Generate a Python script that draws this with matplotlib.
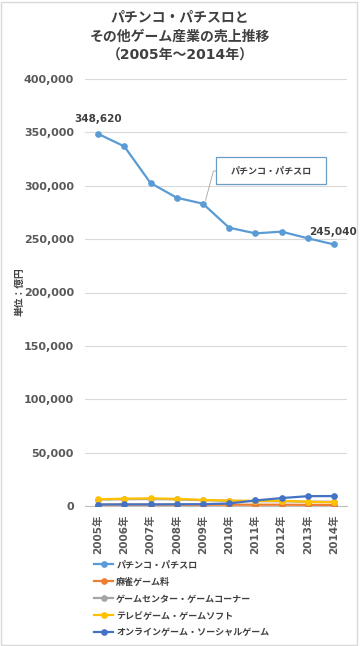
import matplotlib
matplotlib.use("Agg")
import matplotlib.pyplot as plt
from matplotlib.patches import Rectangle
from matplotlib.ticker import FuncFormatter

plt.rcParams['font.family'] = ['DejaVu Sans', 'Noto Sans CJK JP']

years = ['2005年', '2006年', '2007年', '2008年', '2009年', '2010年', '2011年', '2012年', '2013年', '2014年']
pachinko = [348620, 336900, 302600, 288800, 283200, 260700, 255400, 257000, 250800, 245040]
mahjong = [1300, 1300, 1300, 1200, 1200, 1200, 1200, 1200, 1100, 1000]
game_center = [6000, 6300, 6500, 6200, 5400, 4900, 4500, 4400, 4100, 4000]
tv_game = [6300, 6900, 7200, 6700, 5700, 5100, 4700, 4900, 3900, 3500]
online = [1400, 1500, 1500, 1600, 1700, 2400, 5200, 7400, 9200, 9300]

series = [
    ('パチンコ・パチスロ', pachinko, '#5B9BD5'),
    ('麻雀ゲーム料', mahjong, '#ED7D31'),
    ('ゲームセンター・ゲームコーナー', game_center, '#A5A5A5'),
    ('テレビゲーム・ゲームソフト', tv_game, '#FFC000'),
    ('オンラインゲーム・ソーシャルゲーム', online, '#4472C4'),
]

W, H = 360, 646
fig = plt.figure(figsize=(W / 100, H / 100), dpi=100)
fig.patches.append(Rectangle((1 / W, 1 / H), 356 / W, 643 / H, transform=fig.transFigure,
                             fill=False, edgecolor='#D9D9D9', linewidth=1))

ax = fig.add_axes([85 / W, 1 - 506 / H, 262 / W, 427 / H])
x = list(range(len(years)))
handles = []
for name, vals, col in series:
    ln, = ax.plot(x, vals, color=col, linewidth=1.6, marker='o', markersize=3.8,
                  markeredgecolor=col, markerfacecolor=col, label=name, zorder=3)
    handles.append(ln)

ax.set_xlim(-0.5, len(years) - 0.5)
ax.set_ylim(0, 400000)
ax.set_yticks(range(0, 400001, 50000))
ax.yaxis.set_major_formatter(FuncFormatter(lambda v, p: f'{int(v):,}'))
ax.set_xticks(x)
ax.set_xticklabels(years, rotation=90)
for s in ['top', 'right', 'left']:
    ax.spines[s].set_visible(False)
ax.spines['bottom'].set_color('#BFBFBF')
ax.grid(axis='y', color='#D9D9D9', linewidth=0.8)
ax.set_axisbelow(True)
ax.tick_params(axis='both', length=0, colors='#595959')
ax.tick_params(axis='y', labelsize=8, pad=8)
ax.tick_params(axis='x', labelsize=7.5, pad=6)
for lab in ax.get_yticklabels() + ax.get_xticklabels():
    lab.set_fontweight('bold')

# data labels
ax.annotate(f'{pachinko[0]:,}', (0, pachinko[0]), xytext=(0, 7), textcoords='offset points',
            ha='center', va='bottom', fontsize=7.5, fontweight='bold', color='#404040')
ax.annotate(f'{pachinko[-1]:,}', (9, pachinko[-1]), xytext=(-1, 5), textcoords='offset points',
            ha='center', va='bottom', fontsize=7.5, fontweight='bold', color='#404040')

# callout box (pixel geometry in figure coordinates)
bx0, bx1, by0, by1 = 216, 326, 157, 184
fig.patches.append(Rectangle((bx0 / W, 1 - by1 / H), (bx1 - bx0) / W, (by1 - by0) / H,
                             transform=fig.transFigure, facecolor='white',
                             edgecolor='#6A9CC4', linewidth=0.9, zorder=5))
fig.text((bx0 + bx1) / 2 / W, 1 - (by0 + by1) / 2 / H, 'パチンコ・パチスロ', ha='center', va='center',
         fontsize=6.5, fontweight='bold', color='#404040', zorder=6)
ax.annotate('', xy=(4.1, pachinko[4] + 3000),
            xytext=((bx0 + 0.5) / W, 1 - 171 / H), textcoords='figure fraction',
            arrowprops=dict(arrowstyle='-', color='#A5A5A5', linewidth=0.6,
                            connectionstyle='angle,angleA=0,angleB=75,rad=0', shrinkA=0, shrinkB=0))

fig.text(20 / W, 1 - 292 / H, '単位：億円', rotation=90, ha='center', va='center',
         fontsize=7, fontweight='bold', color='#404040')

fig.text(0.5, 1 - 17 / H, 'パチンコ・パチスロと', ha='center', va='center',
         fontsize=10, fontweight='bold', color='#404040')
fig.text(0.5, 1 - 37 / H, 'その他ゲーム産業の売上推移', ha='center', va='center',
         fontsize=10, fontweight='bold', color='#404040')
fig.text(0.5, 1 - 56 / H, '（2005年～2014年）', ha='center', va='center',
         fontsize=10, fontweight='bold', color='#404040')

leg = fig.legend(handles=handles, loc='upper left', bbox_to_anchor=(90 / W, 1 - 557 / H),
                 frameon=False, fontsize=6.5, handlelength=2.2, handletextpad=0.3,
                 labelspacing=0.88, borderaxespad=0)
for t in leg.get_texts():
    t.set_fontweight('bold')
    t.set_color('#404040')

fig.savefig('out.png', dpi=100)
